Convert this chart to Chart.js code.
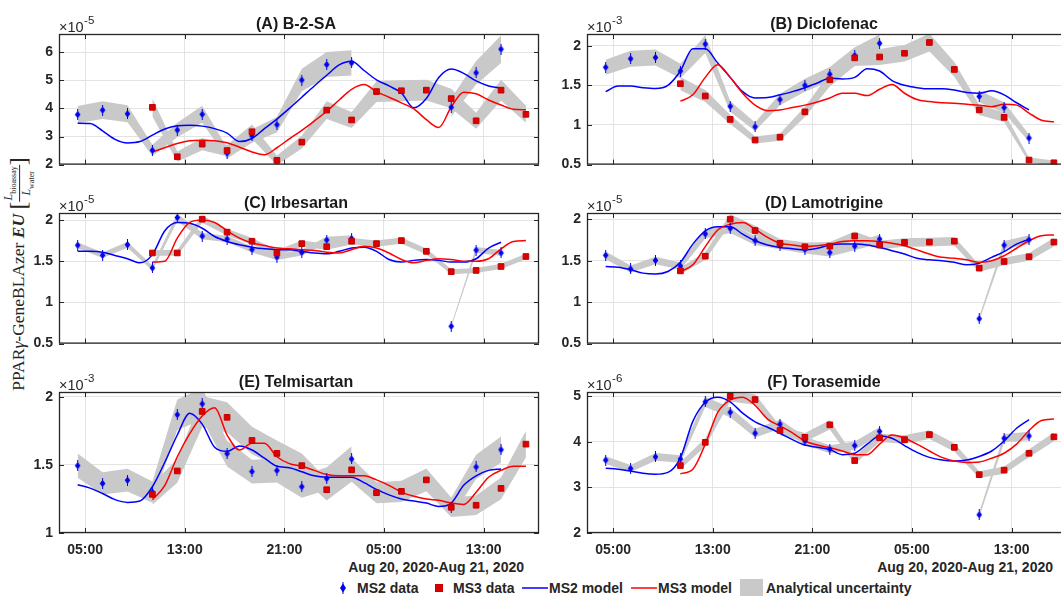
<!DOCTYPE html>
<html lang="en">
<head>
<meta charset="UTF-8">
<title>PPARg-GeneBLAzer EU - MS2 / MS3</title>
<script src="https://cdn.jsdelivr.net/npm/chart.js@4.4.1/dist/chart.umd.min.js"></script>
<style>
  html, body { margin: 0; padding: 0; background: #fff; }
  body { width: 1061px; height: 596px; overflow: hidden; position: relative;
         font-family: "Liberation Sans", Arial, sans-serif; color: #262626; }
  canvas.panel { position: absolute; }
  .txt { position: absolute; font-weight: bold; font-size: 14px; white-space: nowrap; line-height: 16px; }
  .dateLab { top: 559px; text-align: right; }
  .leg { top: 580px; }
  #ylab { position: absolute; left: 20px; top: 274px; white-space: nowrap;
          transform: translate(-50%, -50%) rotate(-90deg);
          font-family: "Liberation Serif", "DejaVu Serif", serif; font-size: 17.5px; color: #262626; }
  #ylab .brk { font-size: 24px; vertical-align: -2px; }
  #ylab .frac { display: inline-block; vertical-align: middle; text-align: center; font-size: 12px; line-height: 12px; }
  #ylab .frac span { display: block; }
  #ylab .frac .num { border-bottom: 1px solid #262626; padding: 0 1px; }
  #ylab sub { font-size: 8px; font-style: normal; }
</style>
</head>
<body>

<div id="ylab">PPAR<i>γ</i>-GeneBLAzer&nbsp;<b><i>EU</i></b>&nbsp;<span class="brk">[</span><span class="frac"><span class="num"><i>L</i><sub>bioassay</sub></span><span><i>L</i><sub>water</sub></span></span><span class="brk">]</span></div>

<div class="txt dateLab" style="right:537px;">Aug 20, 2020-Aug 21, 2020</div>
<div class="txt dateLab" style="right:8px;">Aug 20, 2020-Aug 21, 2020</div>

<svg style="position:absolute;left:339px;top:582px" width="8" height="12"><path d="M4 1.5 L7 6 L4 10.5 L1 6 Z" fill="#0000f0"/><line x1="4" y1="0" x2="4" y2="12" stroke="#0000f0" stroke-width="1"/></svg>
<div class="txt leg" style="left:357px;">MS2 data</div>
<svg style="position:absolute;left:435px;top:584px" width="8" height="8"><rect x="0.5" y="0.5" width="7" height="7" fill="#dd0000" stroke="#c80000"/></svg>
<div class="txt leg" style="left:453px;">MS3 data</div>
<svg style="position:absolute;left:522px;top:586px" width="26" height="4"><line x1="0" y1="2" x2="26" y2="2" stroke="#0000ff" stroke-width="1.5"/></svg>
<div class="txt leg" style="left:549px;">MS2 model</div>
<svg style="position:absolute;left:631px;top:586px" width="26" height="4"><line x1="0" y1="2" x2="26" y2="2" stroke="#ff0000" stroke-width="1.5"/></svg>
<div class="txt leg" style="left:658px;">MS3 model</div>
<div style="position:absolute;left:740px;top:579px;width:23px;height:17px;background:#c9c9c9;"></div>
<div class="txt leg" style="left:766px;">Analytical uncertainty</div>

<script>
    // sampling times, hours after Aug 20 00:00
    var sampleHours = [4.4, 6.4, 8.4, 10.4, 12.4, 14.4, 16.4, 18.4, 20.4, 22.4,
                       24.4, 26.4, 28.4, 30.4, 32.4, 34.4, 36.4, 38.4, 40.4];
    var modelHours = [4.4, 5.4, 6.4, 7.4, 8.4, 9.4, 10.4, 11.4, 12.4, 13.4,
                      14.4, 15.4, 16.4, 17.4, 18.4, 19.4, 20.4, 21.4, 22.4, 23.4,
                      24.4, 25.4, 26.4, 27.4, 28.4, 29.4, 30.4, 31.4, 32.4, 33.4,
                      34.4, 35.4, 36.4, 37.4, 38.4, 39.4, 40.4];
    var xTickHours = [5, 13, 21, 29, 37];
    var xTickLabels = ['05:00', '13:00', '21:00', '05:00', '13:00'];

    // (A) B-2-SA  x1e-5
    var ms2A = [3.78, 3.94, 3.81, 2.51, 3.23, 3.79, 2.41, 3.02, 3.42, 5.01, 5.56, 5.62, null, null, null, 4.04, 5.27, 6.11, null];
    var ms3A = [null, null, null, 4.04, 2.28, 2.73, 2.50, 3.17, 2.15, 2.80, 3.94, 3.59, 4.60, 4.63, 4.65, 4.35, 3.56, 4.65, 3.79];
    var ms2ModelA = [3.47, 3.46, 3.20, 2.90, 2.77, 2.82, 3.05, 3.27, 3.38, 3.40, 3.37, 3.28, 3.12, 2.82, 2.93, 3.28, 3.62, 4.00, 4.40, 4.80,
                     5.18, 5.55, 5.68, 5.35, 5.02, 4.80, 4.55, 4.02, 4.35, 5.10, 5.40, 5.25, 4.98, 4.80, 4.72, null, null];
    var ms3ModelA = [null, null, null, null, null, null, 2.45, 2.60, 2.75, 2.85, 2.87, 2.85, 2.78, 2.62, 2.45, 2.35, 2.60, 2.92, 3.22, 3.55,
                     3.90, 4.30, 4.68, 4.85, 4.60, 4.40, 4.20, 3.98, 3.60, 3.32, 4.05, 4.58, 4.52, 4.30, 4.12, 3.97, 3.95];
    var yTicksA = [2, 3, 4, 5, 6];

    // (B) Diclofenac  x1e-3
    var ms2B = [1.727, 1.835, 1.85, 1.68, 2.02, 1.235, 0.977, 1.32, 1.50, 1.64, 1.877, 2.03, null, null, null, 1.36, 1.22, 0.835, null];
    var ms3B = [null, null, null, 1.52, 1.365, 1.07, 0.81, 0.846, 1.165, 1.57, 1.846, 1.857, 1.904, 2.04, 1.70, 1.19, 1.096, 0.558, 0.523];
    var ms2ModelB = [1.42, 1.49, 1.49, 1.47, 1.46, 1.50, 1.68, 1.96, 1.96, 1.78, 1.60, 1.42, 1.34, 1.345, 1.38, 1.42, 1.47, 1.53, 1.59, 1.58,
                     1.60, 1.71, 1.68, 1.56, 1.50, 1.47, 1.455, 1.455, 1.44, 1.41, 1.40, 1.43, 1.38, 1.28, 1.19, null, null];
    var ms3ModelB = [null, null, null, null, null, null, 1.30, 1.38, 1.60, 1.76, 1.60, 1.40, 1.25, 1.18, 1.19, 1.22, 1.25, 1.29, 1.34, 1.40,
                     1.40, 1.37, 1.45, 1.51, 1.40, 1.32, 1.295, 1.28, 1.275, 1.26, 1.25, 1.23, 1.26, 1.25, 1.15, 1.06, 1.04];
    var yTicksB = [0.5, 1, 1.5, 2];

    // (C) Irbesartan  x1e-5
    var ms2C = [1.694, 1.572, 1.70, 1.418, 2.03, 1.805, 1.768, 1.642, 1.55, 1.606, 1.757, 1.775, null, null, null, 0.71, 1.635, 1.60, null];
    var ms3C = [null, null, null, 1.60, 1.60, 2.01, 1.853, 1.742, 1.60, 1.713, 1.676, 1.742, 1.713, 1.75, 1.62, 1.373, 1.388, 1.436, 1.557];
    var ms2ModelC = [1.62, 1.62, 1.61, 1.57, 1.53, 1.48, 1.58, 1.87, 1.97, 1.96, 1.90, 1.80, 1.74, 1.70, 1.67, 1.65, 1.64, 1.64, 1.62, 1.60,
                     1.59, 1.62, 1.66, 1.67, 1.62, 1.52, 1.49, 1.51, 1.52, 1.51, 1.49, 1.49, 1.53, 1.66, 1.73, null, null];
    var ms3ModelC = [null, null, null, null, null, null, 1.49, 1.50, 1.78, 1.97, 2.00, 1.97, 1.87, 1.78, 1.72, 1.69, 1.66, 1.65, 1.64, 1.63,
                     1.61, 1.60, 1.64, 1.68, 1.66, 1.60, 1.52, 1.48, 1.51, 1.53, 1.52, 1.50, 1.50, 1.53, 1.65, 1.74, 1.75];
    var yTicksC = [0.5, 1, 1.5, 2];

    // (D) Lamotrigine  x1e-5
    var ms2D = [1.565, 1.40, 1.503, 1.436, 1.823, 1.889, 1.742, 1.687, 1.635, 1.598, 1.676, 1.76, null, null, null, 0.80, 1.687, 1.753, null];
    var ms3D = [null, null, null, 1.377, 1.554, 2.0, 1.864, 1.709, 1.668, 1.676, 1.797, 1.69, 1.72, 1.724, 1.735, 1.41, 1.49, 1.547, 1.724];
    var ms2ModelD = [1.43, 1.42, 1.39, 1.35, 1.34, 1.37, 1.48, 1.70, 1.86, 1.91, 1.91, 1.82, 1.74, 1.69, 1.66, 1.645, 1.63, 1.65, 1.69, 1.70,
                     1.70, 1.69, 1.66, 1.62, 1.58, 1.53, 1.51, 1.50, 1.48, 1.45, 1.47, 1.54, 1.61, 1.70, 1.76, null, null];
    var ms3ModelD = [null, null, null, null, null, null, 1.37, 1.45, 1.67, 1.87, 1.94, 1.96, 1.88, 1.78, 1.71, 1.69, 1.67, 1.68, 1.70, 1.73,
                     1.74, 1.74, 1.73, 1.71, 1.68, 1.63, 1.58, 1.54, 1.53, 1.51, 1.48, 1.50, 1.56, 1.65, 1.74, 1.80, 1.81];
    var yTicksD = [0.5, 1, 1.5, 2];

    // (E) Telmisartan  x1e-3
    var ms2E = [1.495, 1.364, 1.388, 1.30, 1.869, 1.949, 1.583, 1.451, 1.459, 1.34, 1.40, 1.544, null, null, null, 1.187, 1.485, 1.612, null];
    var ms3E = [null, null, null, 1.284, 1.456, 1.893, 1.85, 1.68, 1.585, 1.495, 1.318, 1.464, 1.296, 1.306, 1.39, 1.189, 1.204, 1.328, 1.653];
    var ms2ModelE = [1.355, 1.33, 1.29, 1.245, 1.225, 1.235, 1.34, 1.52, 1.72, 1.88, 1.80, 1.63, 1.60, 1.64, 1.61, 1.55, 1.49, 1.48, 1.45, 1.42,
                     1.41, 1.41, 1.41, 1.37, 1.32, 1.28, 1.25, 1.235, 1.22, 1.195, 1.22, 1.35, 1.42, 1.46, 1.47, null, null];
    var ms3ModelE = [null, null, null, null, null, null, 1.245, 1.35, 1.56, 1.73, 1.86, 1.92, 1.72, 1.61, 1.66, 1.66, 1.56, 1.51, 1.49, 1.46,
                     1.43, 1.42, 1.42, 1.42, 1.39, 1.35, 1.30, 1.27, 1.25, 1.24, 1.22, 1.21, 1.30, 1.41, 1.46, 1.49, 1.49];
    var yTicksE = [1, 1.5, 2];

    // (F) Torasemide  x1e-6
    var ms2F = [3.60, 3.415, 3.67, 3.625, 4.88, 4.65, 4.19, 4.39, 4.02, 3.84, 3.92, 4.23, null, null, null, 2.40, 4.08, 4.13, null];
    var ms3F = [null, null, null, 3.48, 3.99, 5.0, 4.93, 4.25, 4.10, 4.375, 3.59, 4.09, 4.05, 4.16, 3.88, 3.28, 3.38, 3.75, 4.11];
    var ms2ModelF = [3.42, 3.40, 3.36, 3.31, 3.29, 3.33, 3.65, 4.45, 4.87, 4.98, 4.88, 4.63, 4.44, 4.32, 4.19, 4.05, 3.93, 3.88, 3.83, 3.72,
                     3.75, 3.95, 4.13, 4.08, 3.92, 3.77, 3.66, 3.60, 3.58, 3.60, 3.68, 3.80, 4.02, 4.30, 4.49, null, null];
    var ms3ModelF = [null, null, null, null, null, null, 3.30, 3.40, 3.95, 4.65, 4.92, 4.98, 4.80, 4.50, 4.35, 4.20, 4.02, 3.93, 3.87, 3.80,
                     3.72, 3.72, 3.95, 4.15, 4.08, 3.95, 3.80, 3.66, 3.58, 3.55, 3.56, 3.64, 3.75, 3.95, 4.25, 4.47, 4.50];
    var yTicksF = [2, 3, 4, 5];

    // relative analytical uncertainty per panel
    var relUncertainty = {A: 0.08, B: 0.055, C: 0.022, D: 0.03, E: 0.06, F: 0.023};

    var panels = [
        {key: 'A', title: '(A) B-2-SA',     exp: '-5', ms2: ms2A, ms3: ms3A, m2: ms2ModelA, m3: ms3ModelA, ticks: yTicksA, yMax: 6.65,  left: 59,  top: 34,  bottom: false},
        {key: 'B', title: '(B) Diclofenac',  exp: '-3', ms2: ms2B, ms3: ms3B, m2: ms2ModelB, m3: ms3ModelB, ticks: yTicksB, yMax: 2.147, left: 587, top: 34,  bottom: false},
        {key: 'C', title: '(C) Irbesartan',  exp: '-5', ms2: ms2C, ms3: ms3C, m2: ms2ModelC, m3: ms3ModelC, ticks: yTicksC, yMax: 2.085, left: 59,  top: 213, bottom: false},
        {key: 'D', title: '(D) Lamotrigine', exp: '-5', ms2: ms2D, ms3: ms3D, m2: ms2ModelD, m3: ms3ModelD, ticks: yTicksD, yMax: 2.075, left: 587, top: 213, bottom: false},
        {key: 'E', title: '(E) Telmisartan', exp: '-3', ms2: ms2E, ms3: ms3E, m2: ms2ModelE, m3: ms3ModelE, ticks: yTicksE, yMax: 2.036, left: 59,  top: 392, bottom: true},
        {key: 'F', title: '(F) Torasemide',  exp: '-6', ms2: ms2F, ms3: ms3F, m2: ms2ModelF, m3: ms3ModelF, ticks: yTicksF, yMax: 5.095, left: 587, top: 392, bottom: true}
    ];

    Chart.defaults.font.family = '"Liberation Sans", Arial, sans-serif';
    Chart.defaults.color = '#262626';

    // MATLAB style diamond with a thin vertical bar
    function diamondMarker() {
        var c = document.createElement('canvas');
        c.width = 7; c.height = 11;
        var g = c.getContext('2d');
        g.fillStyle = '#0000f0';
        g.strokeStyle = '#0000f0';
        g.beginPath();
        g.moveTo(3.5, 1.8); g.lineTo(6.3, 5.5); g.lineTo(3.5, 9.2); g.lineTo(0.7, 5.5);
        g.closePath();
        g.fill();
        g.lineWidth = 1;
        g.beginPath(); g.moveTo(3.5, 0); g.lineTo(3.5, 11); g.stroke();
        return c;
    }
    var diamond = diamondMarker();

    function pts(xs, ys, f) {
        return xs.map(function (x, i) {
            var v = ys[i];
            return {x: x, y: v === null ? null : v * (f || 1)};
        });
    }

    // axes box, inward ticks, title and exponent
    var framePlugin = {
        id: 'matlabFrame',
        afterDraw: function (chart) {
            var a = chart.chartArea, ctx = chart.ctx;
            var o = chart.options.plugins.matlabFrame;
            var tl = 5;
            ctx.save();
            ctx.strokeStyle = '#262626';
            ctx.lineWidth = 1;
            ctx.beginPath();
            chart.scales.y.ticks.forEach(function (t) {
                var y = Math.round(chart.scales.y.getPixelForValue(t.value)) + 0.5;
                ctx.moveTo(a.left, y); ctx.lineTo(a.left + tl, y);
                ctx.moveTo(a.right, y); ctx.lineTo(a.right - tl, y);
            });
            chart.scales.x.ticks.forEach(function (t) {
                var x = Math.round(chart.scales.x.getPixelForValue(t.value)) + 0.5;
                ctx.moveTo(x, a.top); ctx.lineTo(x, a.top + tl);
                ctx.moveTo(x, a.bottom); ctx.lineTo(x, a.bottom - tl);
            });
            ctx.stroke();
            ctx.lineWidth = 1.3;
            ctx.strokeRect(a.left + 0.5, a.top + 0.5, a.right - a.left - 1, a.bottom - a.top - 1);

            ctx.fillStyle = '#1a1a1a';
            ctx.font = 'bold 16px "Liberation Sans", Arial, sans-serif';
            ctx.textAlign = 'center';
            ctx.textBaseline = 'alphabetic';
            ctx.fillText(o.title, (a.left + a.right) / 2 - 3, a.top - 5);

            ctx.fillStyle = '#262626';
            ctx.textAlign = 'left';
            ctx.font = '14.5px "Liberation Sans", Arial, sans-serif';
            ctx.fillText('\u00d710', a.left, a.top - 2);
            var w = ctx.measureText('\u00d710').width;
            ctx.font = '11.5px "Liberation Sans", Arial, sans-serif';
            ctx.fillText(o.exp, a.left + w + 0.5, a.top - 10);
            ctx.restore();
        }
    };

    panels.forEach(function (p) {
        var W = 59 + 480 + 12, H = 34 + 141 + (p.bottom ? 26 : 4);
        var cv = document.createElement('canvas');
        cv.className = 'panel';
        cv.width = W; cv.height = H;
        cv.style.left = (p.left - 59) + 'px';
        cv.style.top = (p.top - 34) + 'px';
        cv.style.width = W + 'px';
        cv.style.height = H + 'px';
        document.body.appendChild(cv);

        var u = relUncertainty[p.key];
        var band = '#c9c9c9';
        var ctx = cv.getContext('2d');

        var chart = new Chart(ctx, {
            type: 'line',
            data: {
                datasets: [
                    {label: 'MS3 data', data: pts(sampleHours, p.ms3), showLine: false, pointStyle: 'rect',
                     pointRadius: 4.0, backgroundColor: '#dd0000', borderColor: '#c40000', borderWidth: 1, order: 0},
                    {label: 'MS2 data', data: pts(sampleHours, p.ms2), showLine: false, pointStyle: diamond,
                     pointRadius: 5, order: 0},
                    {label: 'MS3 model', data: pts(modelHours, p.m3), borderColor: '#ff0000', borderWidth: 1.5,
                     pointRadius: 0, cubicInterpolationMode: 'monotone', spanGaps: false, order: 1},
                    {label: 'MS2 model', data: pts(modelHours, p.m2), borderColor: '#0000ff', borderWidth: 1.5,
                     pointRadius: 0, cubicInterpolationMode: 'monotone', spanGaps: false, order: 1},
                    {label: 'ms2 low', data: pts(sampleHours, p.ms2, 1 - u), borderColor: 'rgba(0,0,0,0)',
                     pointRadius: 0, tension: 0, fill: false, spanGaps: false, order: 2},
                    {label: 'ms2 high', data: pts(sampleHours, p.ms2, 1 + u), borderColor: 'rgba(0,0,0,0)',
                     backgroundColor: band, pointRadius: 0, tension: 0, fill: '-1', spanGaps: false, order: 2},
                    {label: 'ms3 low', data: pts(sampleHours, p.ms3, 1 - u), borderColor: 'rgba(0,0,0,0)',
                     pointRadius: 0, tension: 0, fill: false, spanGaps: false, order: 2},
                    {label: 'ms3 high', data: pts(sampleHours, p.ms3, 1 + u), borderColor: 'rgba(0,0,0,0)',
                     backgroundColor: band, pointRadius: 0, tension: 0, fill: '-1', spanGaps: false, order: 2}
                ]
            },
            options: {
                responsive: false,
                animation: false,
                devicePixelRatio: 1,
                layout: {padding: {left: 0, right: 12, top: 34, bottom: p.bottom ? 0 : 4}},
                plugins: {
                    legend: {display: false},
                    tooltip: {enabled: false},
                    matlabFrame: {title: p.title, exp: p.exp}
                },
                scales: {
                    x: {
                        type: 'linear', min: 2.9, max: 41.45,
                        afterFit: function (s) { s.height = p.bottom ? 26 : 0; },
                        afterBuildTicks: function (s) { s.ticks = xTickHours.map(function (v) { return {value: v}; }); },
                        grid: {color: '#e3e3e3', drawTicks: false},
                        border: {display: false},
                        ticks: {
                            display: p.bottom, padding: 9, maxRotation: 0, autoSkip: false,
                            color: '#262626', font: {size: 14, weight: 'bold'},
                            callback: function (v) { return xTickLabels[xTickHours.indexOf(v)]; }
                        }
                    },
                    y: {
                        min: p.ticks[0], max: p.yMax,
                        afterFit: function (s) { s.width = 59; },
                        afterBuildTicks: function (s) { s.ticks = p.ticks.map(function (v) { return {value: v}; }); },
                        grid: {color: '#e3e3e3', drawTicks: false},
                        border: {display: false},
                        ticks: {
                            padding: 6, color: '#262626', font: {size: 14, weight: 'bold'},
                            callback: function (v) { return String(v); }
                        }
                    }
                }
            },
            plugins: [framePlugin]
        });
    });
</script>
</body>
</html>
